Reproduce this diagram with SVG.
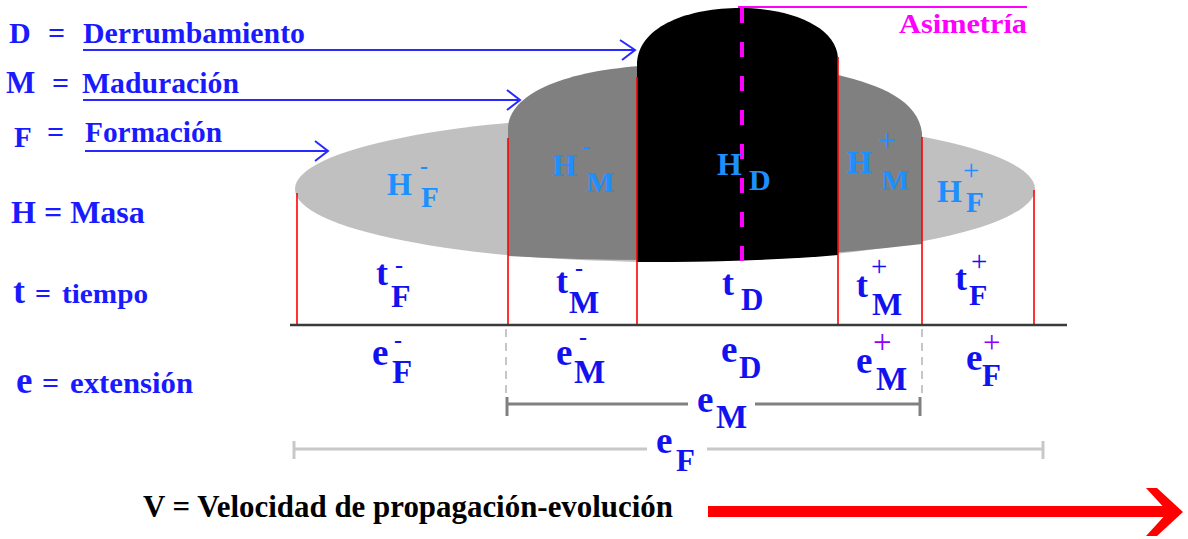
<svg xmlns="http://www.w3.org/2000/svg" width="1188" height="539" viewBox="0 0 1188 539">
<style>
.lg{fill:#1a1aff}
.hb{fill:#1e8fff}
.tb{fill:#1212f0}
.red{stroke:#ff0000;stroke-width:1.6;fill:none}
.arr{stroke:#2828ff;stroke-width:2;fill:none}
</style>
<rect width="1188" height="539" fill="#ffffff"/>

<g id="shape-F">
<ellipse cx="665" cy="189" rx="370" ry="73" fill="#c0c0c0"/>
</g>
<g id="shape-M">
<path d="M508,256 L508,127 C510,95 560,72 640,66 L838,75 C880,85 918,100 922,133 L922,244 Q720,268 508,256 Z" fill="#808080"/>
</g>
<g id="shape-D">
<path d="M637,262 L637,62 C640,25 690,8 740,8 C790,8 836,26 838,58 L838,255 Q760,262 637,262 Z" fill="#000000"/>
</g>

<g id="connectors">
<line class="red" x1="297" y1="193" x2="297" y2="325"/>
<line class="red" x1="508" y1="138" x2="508" y2="325"/>
<line class="red" x1="637" y1="77" x2="637" y2="325"/>
<line class="red" x1="838" y1="57" x2="838" y2="325"/>
<line class="red" x1="922" y1="137" x2="922" y2="325"/>
<line class="red" x1="1034" y1="190" x2="1034" y2="325"/>
<line x1="290" y1="325" x2="1067" y2="325" stroke="#3a3a3a" stroke-width="2.5"/>
<line x1="506" y1="329" x2="506" y2="395" stroke="#b4b4b4" stroke-width="1.5" stroke-dasharray="8 6"/>
<line x1="922" y1="329" x2="922" y2="393" stroke="#b4b4b4" stroke-width="1.5" stroke-dasharray="8 6"/>
<g stroke="#808080" stroke-width="3">
<line x1="506" y1="404" x2="688" y2="404"/>
<line x1="755" y1="404" x2="920" y2="404"/>
<line x1="507" y1="397" x2="507" y2="416"/>
<line x1="920" y1="397" x2="920" y2="416"/>
</g>
<g stroke="#c8c8c8" stroke-width="3">
<line x1="294" y1="449" x2="647" y2="449"/>
<line x1="707" y1="449" x2="1043" y2="449"/>
<line x1="294" y1="441" x2="294" y2="459"/>
<line x1="1043" y1="441" x2="1043" y2="459"/>
</g>
<line x1="738" y1="7" x2="1027" y2="7" stroke="#ff00ff" stroke-width="2"/>
<line x1="742" y1="8" x2="742" y2="263" stroke="#ff00ff" stroke-width="4" stroke-dasharray="15 19"/>
<line class="arr" x1="83" y1="50" x2="635" y2="50"/>
<polyline class="arr" points="620,40 635,50 622,60"/>
<line class="arr" x1="83" y1="100" x2="520" y2="100"/>
<polyline class="arr" points="507,90 520,100 507,110"/>
<line class="arr" x1="85" y1="151" x2="328" y2="151"/>
<polyline class="arr" points="315,141 328,151 315,161"/>
<rect x="708" y="506" width="460" height="11" fill="#ff0000"/>
<polygon points="1146,488 1157,488 1183,512 1157,536 1146,536 1168,512" fill="#ff0000"/>
</g>

<g id="legend">
<text class="lg" x="9" y="43" style="font-family:'Liberation Serif';font-weight:bold;font-size:30px">D</text>
<text class="lg" x="48" y="43" style="font-family:'Liberation Serif';font-weight:bold;font-size:30px">=</text>
<text class="lg" x="83" y="43" textLength="222" lengthAdjust="spacingAndGlyphs" style="font-family:'Liberation Serif';font-weight:bold;font-size:30px">Derrumbamiento</text>
<text class="lg" x="6" y="93" style="font-family:'Liberation Serif';font-weight:bold;font-size:31px">M</text>
<text class="lg" x="52" y="93" style="font-family:'Liberation Serif';font-weight:bold;font-size:30px">=</text>
<text class="lg" x="82" y="93" textLength="157" lengthAdjust="spacingAndGlyphs" style="font-family:'Liberation Serif';font-weight:bold;font-size:30px">Maduración</text>
<text class="lg" x="14" y="147" style="font-family:'Liberation Serif';font-weight:bold;font-size:29px">F</text>
<text class="lg" x="47" y="142" style="font-family:'Liberation Serif';font-weight:bold;font-size:30px">=</text>
<text class="lg" x="85" y="142" textLength="137" lengthAdjust="spacingAndGlyphs" style="font-family:'Liberation Serif';font-weight:bold;font-size:30px">Formación</text>
<text class="lg" x="11" y="223" style="font-family:'Liberation Serif';font-weight:bold;font-size:32px">H = Masa</text>
<text class="lg" x="13" y="303" style="font-family:'Liberation Serif';font-weight:bold;font-size:36px">t</text>
<text class="lg" x="35" y="303" style="font-family:'Liberation Serif';font-weight:bold;font-size:28px">=</text>
<text class="lg" x="62" y="303" textLength="86" lengthAdjust="spacingAndGlyphs" style="font-family:'Liberation Serif';font-weight:bold;font-size:28px">tiempo</text>
<text class="lg" x="16" y="393" style="font-family:'Liberation Serif';font-weight:bold;font-size:37px">e</text>
<text class="lg" x="42" y="393" style="font-family:'Liberation Serif';font-weight:bold;font-size:30px">=</text>
<text class="lg" x="70" y="393" textLength="123" lengthAdjust="spacingAndGlyphs" style="font-family:'Liberation Serif';font-weight:bold;font-size:29px">extensión</text>
<text x="143" y="517" fill="#000000" textLength="530" lengthAdjust="spacingAndGlyphs" style="font-family:'Liberation Serif';font-weight:bold;font-size:32px">V = Velocidad de propagación-evolución</text>
<text x="899" y="33" fill="#ff00ff" textLength="128" lengthAdjust="spacingAndGlyphs" style="font-family:'Liberation Serif';font-weight:bold;font-size:28px">Asimetría</text>
</g>

<g id="label-HF-minus" class="hb">
<text x="387" y="195" style="font-family:'Liberation Serif';font-weight:bold;font-size:32px">H</text>
<text x="421" y="207" style="font-family:'Liberation Serif';font-weight:bold;font-size:29px">F</text>
<text x="420" y="174" style="font-family:'Liberation Serif';font-weight:bold;font-size:24px">-</text>
</g>
<g id="label-HM-minus" class="hb">
<text x="552" y="176" style="font-family:'Liberation Serif';font-weight:bold;font-size:32px">H</text>
<text x="586" y="192" style="font-family:'Liberation Serif';font-weight:bold;font-size:30px">M</text>
<text x="582" y="154" style="font-family:'Liberation Serif';font-weight:bold;font-size:24px">-</text>
</g>
<g id="label-HD" class="hb">
<text x="717" y="175" style="font-family:'Liberation Serif';font-weight:bold;font-size:32px">H</text>
<text x="749" y="190" style="font-family:'Liberation Serif';font-weight:bold;font-size:30px">D</text>
</g>
<g id="label-HM-plus" class="hb">
<text x="847" y="173" style="font-family:'Liberation Serif';font-weight:bold;font-size:32px">H</text>
<text x="881" y="190" style="font-family:'Liberation Serif';font-weight:bold;font-size:30px">M</text>
<text x="878" y="151" style="font-family:'Liberation Serif';font-weight:normal;font-size:32px">+</text>
</g>
<g id="label-HF-plus" class="hb">
<text x="937" y="202" style="font-family:'Liberation Serif';font-weight:bold;font-size:32px">H</text>
<text x="966" y="212" style="font-family:'Liberation Serif';font-weight:bold;font-size:29px">F</text>
<text x="963" y="180" style="font-family:'Liberation Serif';font-weight:normal;font-size:29px">+</text>
</g>

<g id="label-tF-minus" class="tb">
<text x="376" y="285" style="font-family:'Liberation Serif';font-weight:bold;font-size:36px">t</text>
<text x="391" y="307" style="font-family:'Liberation Serif';font-weight:bold;font-size:32px">F</text>
<text x="395" y="273" style="font-family:'Liberation Serif';font-weight:bold;font-size:24px">-</text>
</g>
<g id="label-tM-minus" class="tb">
<text x="556" y="293" style="font-family:'Liberation Serif';font-weight:bold;font-size:36px">t</text>
<text x="569" y="313" style="font-family:'Liberation Serif';font-weight:bold;font-size:32px">M</text>
<text x="575" y="276" style="font-family:'Liberation Serif';font-weight:bold;font-size:24px">-</text>
</g>
<g id="label-tD" class="tb">
<text x="722" y="295" style="font-family:'Liberation Serif';font-weight:bold;font-size:36px">t</text>
<text x="741" y="310" style="font-family:'Liberation Serif';font-weight:bold;font-size:31px">D</text>
</g>
<g id="label-tM-plus" class="tb">
<text x="856" y="297" style="font-family:'Liberation Serif';font-weight:bold;font-size:36px">t</text>
<text x="872" y="315" style="font-family:'Liberation Serif';font-weight:bold;font-size:32px">M</text>
<text x="871" y="276" style="font-family:'Liberation Serif';font-weight:normal;font-size:29px">+</text>
</g>
<g id="label-tF-plus" class="tb">
<text x="955" y="290" style="font-family:'Liberation Serif';font-weight:bold;font-size:36px">t</text>
<text x="969" y="305" style="font-family:'Liberation Serif';font-weight:bold;font-size:30px">F</text>
<text x="971" y="271" style="font-family:'Liberation Serif';font-weight:normal;font-size:29px">+</text>
</g>

<g id="label-eF-minus" class="tb">
<text x="372" y="365" style="font-family:'Liberation Serif';font-weight:bold;font-size:37px">e</text>
<text x="392" y="383" style="font-family:'Liberation Serif';font-weight:bold;font-size:33px">F</text>
<text x="394" y="348" style="font-family:'Liberation Serif';font-weight:bold;font-size:24px">-</text>
</g>
<g id="label-eM-minus" class="tb">
<text x="556" y="365" style="font-family:'Liberation Serif';font-weight:bold;font-size:37px">e</text>
<text x="574" y="383" style="font-family:'Liberation Serif';font-weight:bold;font-size:33px">M</text>
<text x="579" y="345" style="font-family:'Liberation Serif';font-weight:bold;font-size:24px">-</text>
</g>
<g id="label-eD" class="tb">
<text x="721" y="362" style="font-family:'Liberation Serif';font-weight:bold;font-size:37px">e</text>
<text x="739" y="378" style="font-family:'Liberation Serif';font-weight:bold;font-size:31px">D</text>
</g>
<g id="label-eM-plus" class="tb">
<text x="856" y="373" style="font-family:'Liberation Serif';font-weight:bold;font-size:37px">e</text>
<text x="876" y="390" style="font-family:'Liberation Serif';font-weight:bold;font-size:33px">M</text>
<text x="873" y="353" fill="#8a00ff" style="font-family:'Liberation Serif';font-weight:normal;font-size:33px">+</text>
</g>
<g id="label-eF-plus" class="tb">
<text x="966" y="370" style="font-family:'Liberation Serif';font-weight:bold;font-size:37px">e</text>
<text x="982" y="386" style="font-family:'Liberation Serif';font-weight:bold;font-size:31px">F</text>
<text x="983" y="353" fill="#8a00ff" style="font-family:'Liberation Serif';font-weight:normal;font-size:31px">+</text>
</g>
<g id="label-eM" class="tb">
<text x="697" y="412" style="font-family:'Liberation Serif';font-weight:bold;font-size:37px">e</text>
<text x="716" y="428" style="font-family:'Liberation Serif';font-weight:bold;font-size:33px">M</text>
</g>
<g id="label-eF" class="tb">
<text x="656" y="453" style="font-family:'Liberation Serif';font-weight:bold;font-size:37px">e</text>
<text x="676" y="471" style="font-family:'Liberation Serif';font-weight:bold;font-size:31px">F</text>
</g>
</svg>
